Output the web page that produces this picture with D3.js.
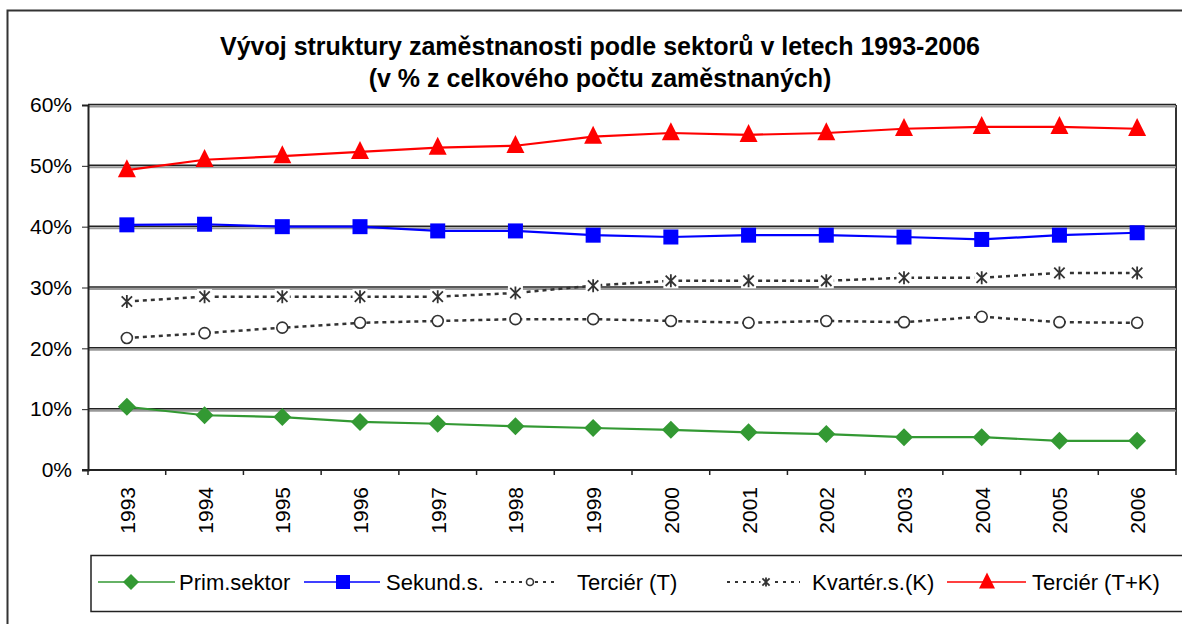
<!DOCTYPE html>
<html>
<head>
<meta charset="utf-8">
<script src="https://cdn.jsdelivr.net/npm/d3@7"></script>
<style>
  body { margin: 0; background: #fff; }
  svg { font-family: "Liberation Sans", Arial, sans-serif; }
</style>
</head>
<body>
<script>
var width = 1182
var height = 624

// data
const years = ["1993","1994","1995","1996","1997","1998","1999","2000","2001","2002","2003","2004","2005","2006"]
const primSektor = [10.4, 9.0, 8.7, 7.9, 7.6, 7.2, 6.9, 6.6, 6.2, 5.9, 5.4, 5.4, 4.8, 4.8]
const sekundS = [40.3, 40.4, 40.0, 40.0, 39.3, 39.3, 38.6, 38.3, 38.6, 38.6, 38.3, 37.9, 38.6, 39.0]
const tercierT = [21.7, 22.5, 23.4, 24.2, 24.5, 24.8, 24.8, 24.5, 24.2, 24.5, 24.3, 25.2, 24.3, 24.2]
const kvarterK = [27.7, 28.5, 28.5, 28.5, 28.5, 29.1, 30.3, 31.1, 31.1, 31.1, 31.6, 31.6, 32.4, 32.4]
const tercierTK = [49.3, 51.0, 51.6, 52.3, 53.0, 53.3, 54.8, 55.4, 55.1, 55.4, 56.1, 56.4, 56.4, 56.1]
const yTicks = [0, 10, 20, 30, 40, 50, 60]

const series = [
  {name: "Prim.sektor", values: primSektor, color: "#339933", marker: "diamond", dash: null},
  {name: "Sekund.s.", values: sekundS, color: "#0000ff", marker: "square", dash: null},
  {name: "Terciér (T)", values: tercierT, color: "#333333", marker: "circle", dash: "4,4"},
  {name: "Kvartér.s.(K)", values: kvarterK, color: "#333333", marker: "star", dash: "4,4"},
  {name: "Terciér (T+K)", values: tercierTK, color: "#ff0000", marker: "triangle", dash: null}
]

const plot = {left: 88, right: 1176, top: 105, bottom: 470}

var svg = d3.select("body").append("svg")
  .attr("width", width)
  .attr("height", height)

// outer frame
svg.append("rect")
  .attr("x", 7.5).attr("y", 10.5)
  .attr("width", 1190).attr("height", 630)
  .attr("fill", "none").attr("stroke", "#333").attr("stroke-width", 2)

// title
var title = svg.append("text")
  .attr("x", 600).attr("text-anchor", "middle")
  .attr("font-weight", "bold").attr("font-size", 25)
title.append("tspan").attr("x", 600).attr("y", 55).text("Vývoj struktury zaměstnanosti podle sektorů v letech 1993-2006")
title.append("tspan").attr("x", 600).attr("y", 87).text("(v % z celkového počtu zaměstnaných)")

var x = d3.scaleBand()
  .domain(years)
  .range([plot.left, plot.right])

var y = d3.scaleLinear()
  .domain([0, 60])
  .range([plot.bottom, plot.top])

// plot area border on the right
svg.append("line")
  .attr("x1", plot.right).attr("x2", plot.right)
  .attr("y1", plot.top).attr("y2", plot.bottom)
  .attr("stroke", "#333").attr("stroke-width", 2)

// gridlines: dark line with a grey shadow under it
var grid = svg.append("g")
yTicks.filter(d => d > 0).forEach(d => {
  grid.append("line")
    .attr("x1", plot.left).attr("x2", plot.right)
    .attr("y1", y(d) + 1.5).attr("y2", y(d) + 1.5)
    .attr("stroke", "#999").attr("stroke-width", 2)
  grid.append("line")
    .attr("x1", plot.left).attr("x2", plot.right)
    .attr("y1", y(d) - 0.5).attr("y2", y(d) - 0.5)
    .attr("stroke", "#222").attr("stroke-width", 1.5)
})

// y axis
var yAxis = svg.append("g")
  .attr("transform", "translate(" + plot.left + ",0)")
  .call(d3.axisLeft(y).tickValues(yTicks).tickSize(6).tickPadding(10).tickFormat(d => d + "%"))
yAxis.select(".domain").attr("stroke", "#222").attr("stroke-width", 2)
yAxis.selectAll(".tick line").attr("stroke", "#222")
yAxis.selectAll("text").attr("font-size", 21).attr("fill", "#000")
  .attr("font-family", "Liberation Sans, Arial, sans-serif")

// x axis: ticks at category boundaries
var xAxis = svg.append("g")
  .attr("transform", "translate(0," + plot.bottom + ")")
xAxis.append("line")
  .attr("x1", plot.left - 6).attr("x2", plot.right)
  .attr("stroke", "#222").attr("stroke-width", 2)
years.concat(["end"]).forEach((yr, i) => {
  var xp = plot.left + i * x.bandwidth()
  xAxis.append("line")
    .attr("x1", xp).attr("x2", xp).attr("y1", 0).attr("y2", 5)
    .attr("stroke", "#222").attr("stroke-width", 1.5)
})
xAxis.selectAll("text.year")
  .data(years)
  .enter().append("text")
  .attr("class", "year")
  .attr("transform", d => "translate(" + (x(d) + x.bandwidth() / 2 + 8) + ",17) rotate(-90)")
  .attr("text-anchor", "end")
  .attr("font-size", 21)
  .text(d => d)

// marker drawing
function drawMarker(g, type, color, size) {
  if (type === "diamond") {
    var h = size / 2
    g.append("path").attr("d", "M0," + (-h) + "L" + h + ",0L0," + h + "L" + (-h) + ",0Z")
      .attr("fill", color)
  } else if (type === "square") {
    g.append("rect").attr("x", -size / 2).attr("y", -size / 2)
      .attr("width", size).attr("height", size).attr("fill", color)
  } else if (type === "triangle") {
    g.append("path").attr("d", "M0," + (-size * 0.6) + "L" + (size / 2) + "," + (size * 0.4) + "L" + (-size / 2) + "," + (size * 0.4) + "Z")
      .attr("fill", color)
  } else if (type === "circle") {
    g.append("circle").attr("r", size / 2).attr("fill", "#fff")
      .attr("stroke", color).attr("stroke-width", 1.6)
  } else if (type === "star") {
    var s = size / 2
    g.append("rect").attr("x", -s - 1).attr("y", -s - 1).attr("width", size + 2).attr("height", size + 2).attr("fill", "#fff")
    g.append("path")
      .attr("d", "M0," + (-s) + "V" + s + "M" + (-s * 0.8) + "," + (-s * 0.8) + "L" + (s * 0.8) + "," + (s * 0.8) + "M" + (s * 0.8) + "," + (-s * 0.8) + "L" + (-s * 0.8) + "," + (s * 0.8))
      .attr("stroke", color).attr("stroke-width", 1.8).attr("fill", "none")
  }
}

var markerSize = {diamond: 18, square: 15, triangle: 18, circle: 11, star: 13}

var line = d3.line()
  .x((d, i) => x(years[i]) + x.bandwidth() / 2)
  .y(d => y(d))

series.forEach(s => {
  svg.append("path")
    .datum(s.values)
    .attr("d", line)
    .attr("fill", "none")
    .attr("stroke", s.color)
    .attr("stroke-width", s.dash ? 2.5 : 2.2)
    .attr("stroke-dasharray", s.dash)
  s.values.forEach((v, i) => {
    var g = svg.append("g")
      .attr("transform", "translate(" + (x(years[i]) + x.bandwidth() / 2) + "," + y(v) + ")")
    drawMarker(g, s.marker, s.color, markerSize[s.marker])
  })
})

// legend
svg.append("rect")
  .attr("x", 91).attr("y", 555.5)
  .attr("width", 1110).attr("height", 56)
  .attr("fill", "#fff").attr("stroke", "#222").attr("stroke-width", 1.5)

const legendPos = [
  {x1: 98, x2: 175, mx: 131, tx: 179},
  {x1: 304, x2: 380, mx: 343, tx: 386},
  {x1: 495, x2: 555, mx: 530, tx: 577},
  {x1: 727, x2: 800, mx: 766, tx: 812},
  {x1: 947, x2: 1026, mx: 987, tx: 1032}
]
var ly = 582
series.forEach((s, i) => {
  var p = legendPos[i]
  svg.append("line")
    .attr("x1", p.x1).attr("x2", p.x2).attr("y1", ly).attr("y2", ly)
    .attr("stroke", s.color).attr("stroke-width", s.dash ? 2 : 1.5)
    .attr("stroke-dasharray", s.dash ? "3,5" : null)
  var g = svg.append("g").attr("transform", "translate(" + p.mx + "," + ly + ")")
  var sz = {diamond: 16, square: 14, triangle: 16, circle: 7, star: 9}[s.marker]
  drawMarker(g, s.marker, s.color, sz)
  svg.append("text")
    .attr("x", p.tx).attr("y", ly + 8)
    .attr("font-size", 22)
    .text(s.name)
})
</script>
</body>
</html>
